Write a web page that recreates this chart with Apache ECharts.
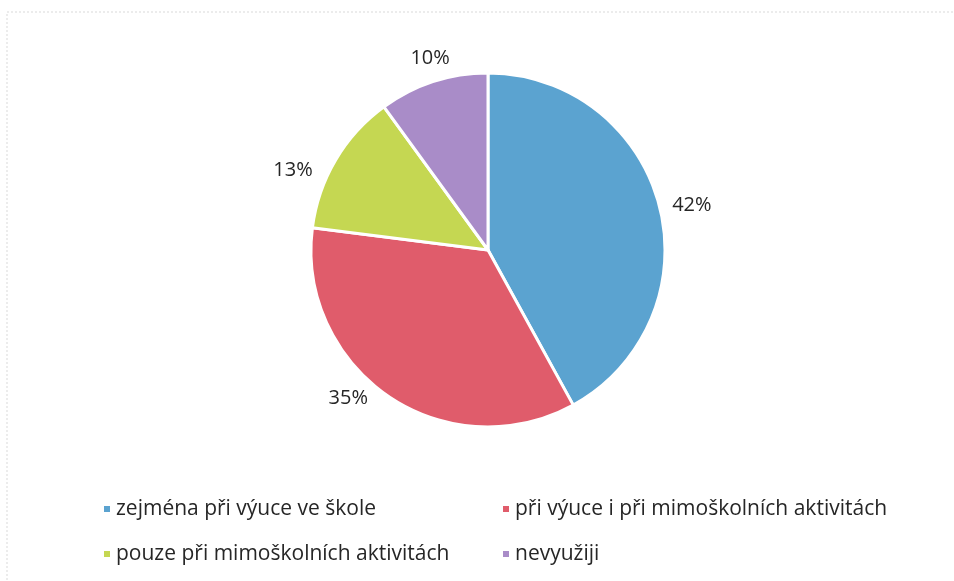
<!DOCTYPE html>
<html>
<head>
<meta charset="utf-8">
<script src="https://cdn.jsdelivr.net/npm/echarts@6/dist/echarts.min.js"></script>
<style>
  html, body { margin: 0; padding: 0; background: #fff; }
  #chart { width: 954px; height: 581px; }
</style>
</head>
<body>
<div id="chart"></div>
<script>
var categories = [
    'zejména při výuce ve škole',
    'při výuce i při mimoškolních aktivitách',
    'pouze při mimoškolních aktivitách',
    'nevyužiji'
];
var shares = [42, 35, 13, 10];
var colors = ['#5ba3d0', '#e05c6b', '#c5d752', '#a98cc8'];

// small nudges so the percentage labels sit where the original puts them
var labelNudge = [[0, 1], [-11, -5], [-11, 14], [24, -16]];

var pieData = categories.map(function (name, i) {
    return { name: name, value: shares[i], itemStyle: { color: colors[i] } };
});

var legendText = {
    fontFamily: 'Open Sans',
    fontSize: 21,
    lineHeight: 24,
    color: '#262626'
};

var option = {
    animation: false,
    graphic: [{
        type: 'rect',
        shape: { x: 7, y: 12, width: 1000, height: 700 },
        style: { fill: 'none', stroke: '#d9d9d9', lineWidth: 1, lineDash: [2, 2] },
        silent: true
    }],
    legend: [{
        orient: 'vertical',
        left: 97,
        top: 492,
        itemWidth: 8,
        itemHeight: 8,
        itemGap: 21,
        icon: 'rect',
        textStyle: legendText,
        data: [categories[0], categories[2]]
    }, {
        orient: 'vertical',
        left: 496,
        top: 492,
        itemWidth: 8,
        itemHeight: 8,
        itemGap: 21,
        icon: 'rect',
        textStyle: legendText,
        data: [categories[1], categories[3]]
    }],
    series: [{
        type: 'pie',
        center: [488, 250],
        radius: [0, 177],
        startAngle: 90,
        clockwise: true,
        itemStyle: { borderColor: '#fff', borderWidth: 3 },
        label: {
            show: true,
            position: 'outside',
            formatter: '{c}%',
            fontFamily: 'Open Sans',
            fontSize: 20,
            color: '#262626'
        },
        labelLine: { show: false, length: 8, length2: 0 },
        labelLayout: function (p) {
            var n = labelNudge[p.dataIndex];
            return { dx: n[0], dy: n[1] };
        },
        emphasis: { disabled: true },
        data: pieData
    }]
};

var myChart = echarts.init(document.getElementById('chart'));
myChart.setOption(option);
</script>
</body>
</html>
